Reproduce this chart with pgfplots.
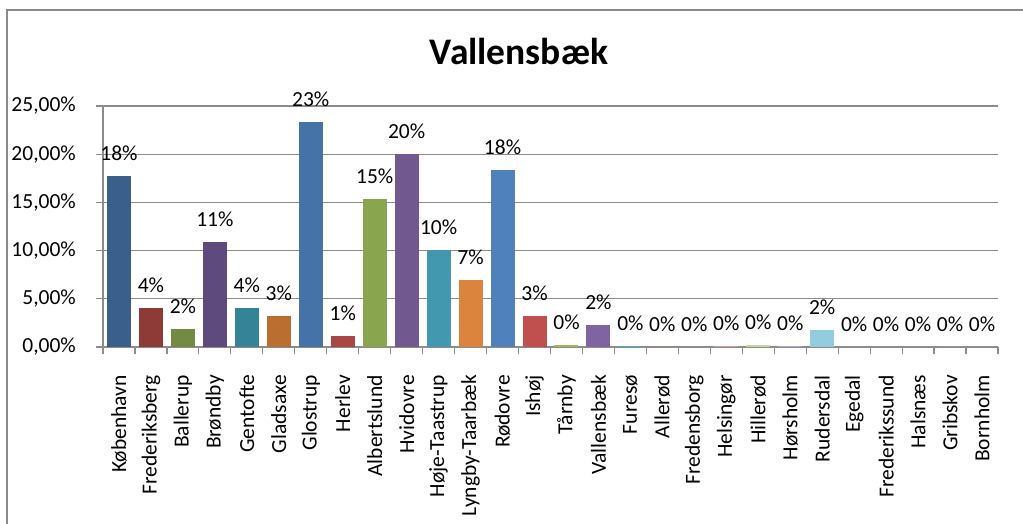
\documentclass[border=0pt]{standalone}
\usepackage{fontspec}
\setmainfont{Carlito}
\usepackage{pgfplots}
\pgfplotsset{compat=1.18}

% Excel 2007 "vary colours by point" palette
\definecolor{c01}{HTML}{3A5F8B}
\definecolor{c02}{HTML}{8E3B38}
\definecolor{c03}{HTML}{728A41}
\definecolor{c04}{HTML}{5E4A7C}
\definecolor{c05}{HTML}{358396}
\definecolor{c06}{HTML}{BA6E2F}
\definecolor{c07}{HTML}{4572A7}
\definecolor{c08}{HTML}{AA4643}
\definecolor{c09}{HTML}{89A54E}
\definecolor{c10}{HTML}{71588F}
\definecolor{c11}{HTML}{4198AF}
\definecolor{c12}{HTML}{DB843D}
\definecolor{c13}{HTML}{4F81BD}
\definecolor{c14}{HTML}{C0504D}
\definecolor{c15}{HTML}{9BBB59}
\definecolor{c16}{HTML}{8064A2}
\definecolor{c17}{HTML}{4BACC6}
\definecolor{c18}{HTML}{F79646}
\definecolor{c19}{HTML}{95B3D7}
\definecolor{c20}{HTML}{D99795}
\definecolor{c21}{HTML}{C3D69B}
\definecolor{c22}{HTML}{B3A2C7}
\definecolor{c23}{HTML}{93CDDD}
\definecolor{c24}{HTML}{FAC090}
\definecolor{c25}{HTML}{B9CDE5}
\definecolor{c26}{HTML}{E6B9B8}
\definecolor{c27}{HTML}{D7E4BD}
\definecolor{c28}{HTML}{CCC1DA}
\definecolor{gridgray}{HTML}{8C8C8C}
\definecolor{framegray}{HTML}{8A8A8A}

\begin{document}
\begin{tikzpicture}
\useasboundingbox (0pt,0pt) rectangle (1023pt,524pt);
\draw[framegray, line width=2pt] (7pt,-2pt) -- (7pt,514pt) -- (1025pt,514pt);
\node[anchor=base, font=\fontsize{37.5}{40}\selectfont\bfseries] at (519pt,459pt) {Vallensbæk};
\begin{axis}[
  at={(103pt,177pt)}, anchor=south west,
  scale only axis, width=895pt, height=241pt,
  ybar, bar width=0.75, bar shift=0pt,
  xmin=0, xmax=28, ymin=0, ymax=25,
  axis lines*=left,
  axis line style={gridgray, line width=1.2pt},
  ymajorgrids, grid style={gridgray, line width=1.2pt},
  tick align=outside, major tick length=7pt,
  tick style={gridgray, line width=1.2pt},
  xtick={0,...,28},
  x tick label as interval,
  xticklabels={København,Frederiksberg,Ballerup,Brøndby,Gentofte,Gladsaxe,Glostrup,Herlev,Albertslund,Hvidovre,Høje-Taastrup,Lyngby-Taarbæk,Rødovre,Ishøj,Tårnby,Vallensbæk,Furesø,Allerød,Fredensborg,Helsingør,Hillerød,Hørsholm,Rudersdal,Egedal,Frederikssund,Halsnæs,Gribskov,Bornholm},
  xticklabel style={rotate=90, anchor=east, inner sep=0pt},
  xticklabel shift=21pt,
  ytick={0,5,...,25},
  yticklabels={{0,00\%},{5,00\%},{10,00\%},{15,00\%},{20,00\%},{25,00\%}},
  yticklabel style={anchor=east, inner sep=0pt},
  yticklabel shift=20pt,
  ticklabel style={font=\fontsize{21.5}{24}\selectfont},
  /pgf/number format/assume math mode=true,
  nodes near coords={\pgfmathprintnumber[fixed,precision=0]{\pgfplotspointmeta}\%},
  every node near coord/.append style={font=\fontsize{21.5}{24}\selectfont, inner sep=0pt, anchor=south, yshift=15pt, black},
  clip=false,
]
\addplot[fill=c01, draw=none] coordinates {(0.5,17.74)};
\addplot[fill=c02, draw=none] coordinates {(1.5,4.09)};
\addplot[fill=c03, draw=none] coordinates {(2.5,1.87)};
\addplot[fill=c04, draw=none] coordinates {(3.5,10.86)};
\addplot[fill=c05, draw=none] coordinates {(4.5,4.09)};
\addplot[fill=c06, draw=none] coordinates {(5.5,3.18)};
\addplot[fill=c07, draw=none] coordinates {(6.5,23.34)};
\addplot[fill=c08, draw=none] coordinates {(7.5,1.18)};
\addplot[fill=c09, draw=none] coordinates {(8.5,15.35)};
\addplot[fill=c10, draw=none] coordinates {(9.5,20.06)};
\addplot[fill=c11, draw=none] coordinates {(10.5,10.03)};
\addplot[fill=c12, draw=none] coordinates {(11.5,6.99)};
\addplot[fill=c13, draw=none] coordinates {(12.5,18.33)};
\addplot[fill=c14, draw=none] coordinates {(13.5,3.26)};
\addplot[fill=c15, draw=none] coordinates {(14.5,0.2)};
\addplot[fill=c16, draw=none] coordinates {(15.5,2.28)};
\addplot[fill=c17, draw=none] coordinates {(16.5,0.1)};
\addplot[fill=c18, draw=none] coordinates {(17.5,0)};
\addplot[fill=c19, draw=none] coordinates {(18.5,0)};
\addplot[fill=c20, draw=none] coordinates {(19.5,0.1)};
\addplot[fill=c21, draw=none] coordinates {(20.5,0.2)};
\addplot[fill=c22, draw=none] coordinates {(21.5,0.1)};
\addplot[fill=c23, draw=none] coordinates {(22.5,1.8)};
\addplot[fill=c24, draw=none] coordinates {(23.5,0)};
\addplot[fill=c25, draw=none] coordinates {(24.5,0)};
\addplot[fill=c26, draw=none] coordinates {(25.5,0)};
\addplot[fill=c27, draw=none] coordinates {(26.5,0)};
\addplot[fill=c28, draw=none] coordinates {(27.5,0)};
\end{axis}
\end{tikzpicture}
\end{document}
